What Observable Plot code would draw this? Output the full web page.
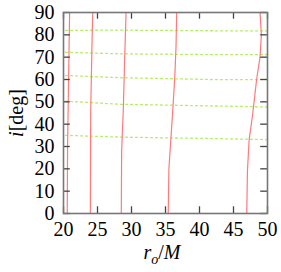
<!DOCTYPE html>
<html>
<head>
<meta charset="utf-8">
<script src="https://cdn.jsdelivr.net/npm/d3@7"></script>
<script src="https://cdn.jsdelivr.net/npm/@observablehq/plot@0.6"></script>
<style>
  html, body { margin: 0; padding: 0; background: #fff; }
  #chart { width: 281px; height: 272px; }
</style>
</head>
<body>
<div id="chart"></div>
<script>
// Tick values
const xTicks = [20, 25, 30, 35, 40, 45, 50];
const yTicks = [0, 10, 20, 30, 40, 50, 60, 70, 80, 90];

// Red curves (r_o/M vs inclination)
const red1R = [20.55, 20.6, 20.7, 20.8, 20.9];
const red1I = [0, 30, 50, 70, 90];
const red2R = [23.95, 24.0, 24.15, 24.3];
const red2I = [0, 45, 70, 90];
const red3R = [28.5, 28.55, 28.8, 29.0, 29.2];
const red3I = [0, 28, 47, 70, 90];
const red4R = [35.4, 35.5, 36.0, 36.35, 36.55, 36.65];
const red4I = [0, 20, 43, 60, 75, 90];
const red5R = [46.95, 47.05, 47.3, 47.8, 48.4, 48.9, 49.1, 48.9];
const red5I = [0, 19, 33, 44, 60, 70, 80, 90];

// Green dotted curves
const greenR = [20.3, 28.4, 43.1, 50];
const green1I = [82.0, 82.1, 81.8, 81.8];
const green2I = [72.2, 71.5, 71.1, 71.2];
const green3I = [61.8, 60.8, 59.9, 60.0];
const green4I = [50.3, 48.9, 48.1, 47.7];
const green5I = [35.0, 34.2, 33.5, 33.1];

const redSets = [[red1R, red1I], [red2R, red2I], [red3R, red3I], [red4R, red4I], [red5R, red5I]];
const redData = redSets.flatMap(([rs, is], k) => rs.map((r, j) => ({r, i: is[j], k})));
const greenSets = [green1I, green2I, green3I, green4I, green5I];
const greenData = greenSets.flatMap((is, k) => greenR.map((r, j) => ({r, i: is[j], k})));

const tickLenX = 3;   // in degrees (y units) for x ticks
const tickLenY = 1;   // in r units for y ticks

const plot = Plot.plot({
  width: 281,
  height: 272,
  marginLeft: 63,
  marginRight: 14,
  marginTop: 12,
  marginBottom: 59,
  style: {fontFamily: "'Liberation Serif', 'DejaVu Serif', serif", fontSize: "20px", color: "#000", background: "#fff"},
  x: {domain: [20, 50]},
  y: {domain: [0, 90]},
  marks: [
    Plot.line(greenData, {x: "r", y: "i", z: "k", stroke: "#b6ee6a", strokeWidth: 1.3, strokeDasharray: "2,3"}),
    Plot.line(redData, {x: "r", y: "i", z: "k", stroke: "#ff7a7a", strokeWidth: 1.2}),
    Plot.ruleX(xTicks, {x: d => d, y1: 0, y2: tickLenX, stroke: "#444", strokeWidth: 1.3}),
    Plot.ruleX(xTicks, {x: d => d, y1: 90 - tickLenX, y2: 90, stroke: "#444", strokeWidth: 1.3}),
    Plot.ruleY(yTicks, {y: d => d, x1: 20, x2: 20 + tickLenY, stroke: "#444", strokeWidth: 1.3}),
    Plot.ruleY(yTicks, {y: d => d, x1: 50 - tickLenY, x2: 50, stroke: "#444", strokeWidth: 1.3}),
    Plot.frame({stroke: "#777", strokeWidth: 1.6}),
    Plot.axisX(xTicks, {tickSize: 0, tickPadding: 8, fontSize: 20, label: null}),
    Plot.axisY(yTicks, {tickSize: 0, tickPadding: 9, fontSize: 20, label: null})
  ]
});

document.getElementById("chart").appendChild(plot);

const svg = d3.select(plot);
// x-axis label: r_o/M
const xl = svg.append("text")
  .attr("x", 162)
  .attr("y", 259)
  .attr("text-anchor", "middle")
  .attr("font-size", 20)
  .attr("font-family", "'Liberation Serif', serif")
  .attr("fill", "#000");
xl.append("tspan").attr("font-style", "italic").text("r");
xl.append("tspan").attr("font-style", "italic").attr("font-size", 14).attr("dy", 5).text("o");
xl.append("tspan").attr("dy", -5).text("/");
xl.append("tspan").attr("font-style", "italic").text("M");

// y-axis label: i[deg]
const yl = svg.append("text")
  .attr("transform", "translate(23,113) rotate(-90)")
  .attr("text-anchor", "middle")
  .attr("font-size", 20)
  .attr("font-family", "'Liberation Serif', serif")
  .attr("fill", "#000");
yl.append("tspan").attr("font-style", "italic").text("i");
yl.append("tspan").text("[deg]");
</script>
</body>
</html>
